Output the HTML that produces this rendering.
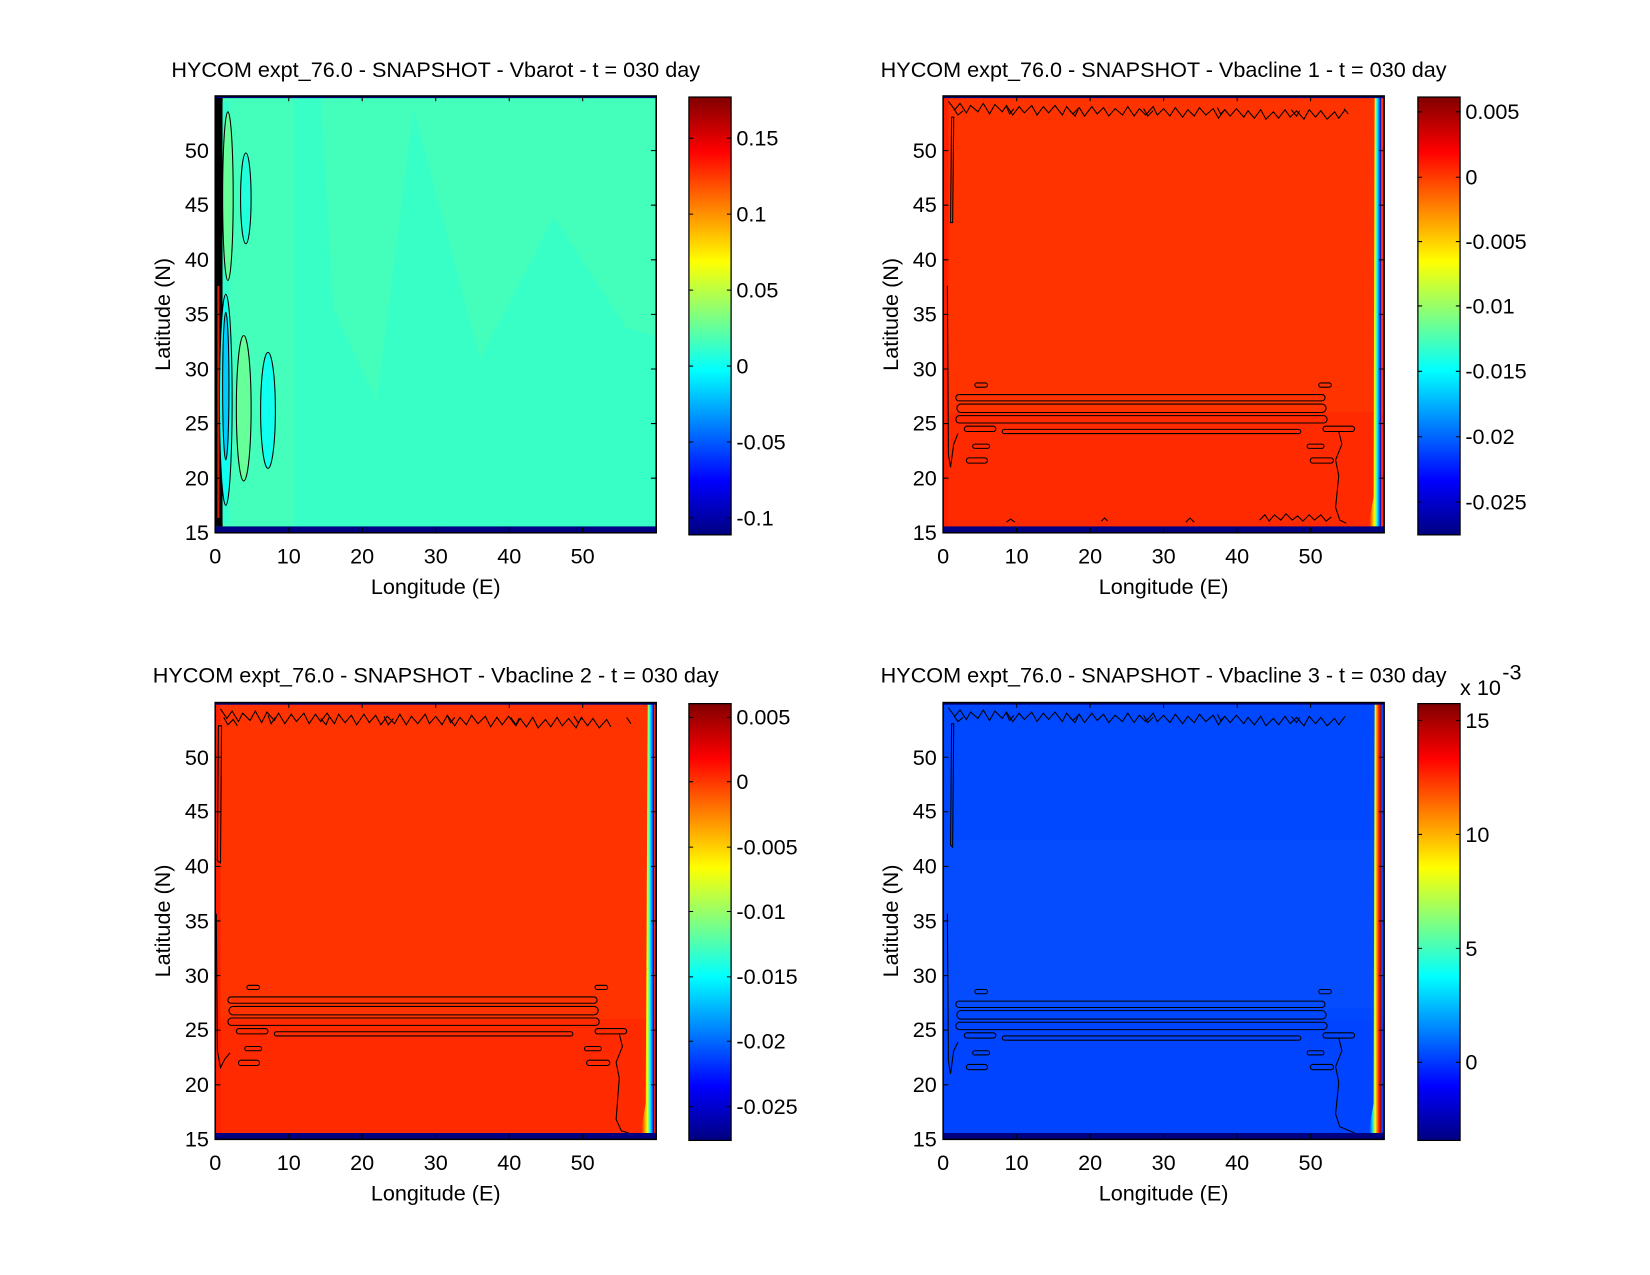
<!DOCTYPE html>
<html><head><meta charset="utf-8"><style>
html,body{margin:0;padding:0;background:#fff;}
svg{display:block;}
text{font-family:"Liberation Sans",sans-serif;font-size:20.5px;fill:#000;}
</style></head><body>
<svg width="1650" height="1275" viewBox="0 0 1564 1208.6" xmlns="http://www.w3.org/2000/svg">
<defs>
<linearGradient id="jet" x1="0" y1="0" x2="0" y2="1">
<stop offset="0" stop-color="#800000"/><stop offset="0.125" stop-color="#ff0000"/>
<stop offset="0.375" stop-color="#ffff00"/><stop offset="0.5" stop-color="#80ff80"/>
<stop offset="0.625" stop-color="#00ffff"/><stop offset="0.875" stop-color="#0000ff"/>
<stop offset="1" stop-color="#000080"/></linearGradient>
<linearGradient id="edgeR" x1="0" y1="0" x2="1" y2="0">
<stop offset="0" stop-color="#ff3300" stop-opacity="0"/><stop offset="0.3" stop-color="#ff9900"/>
<stop offset="0.5" stop-color="#ffff00"/><stop offset="0.7" stop-color="#00ffff"/>
<stop offset="0.9" stop-color="#0040ff"/><stop offset="1" stop-color="#0000a0"/></linearGradient>
<linearGradient id="edgeB" x1="0" y1="0" x2="1" y2="0">
<stop offset="0" stop-color="#0044ff" stop-opacity="0"/><stop offset="0.3" stop-color="#00ccff"/>
<stop offset="0.55" stop-color="#ffff00"/><stop offset="0.8" stop-color="#ff3000"/>
<stop offset="1" stop-color="#a00000"/></linearGradient>
</defs>

<!-- ============ PANEL TL ============ -->
<g transform="translate(204,91)">
<rect x="0" y="0" width="418" height="414" fill="#44ffbb"/>
<path d="M75,414 L75,0 L100,0 L112,200 L153,290 L188,12 L251,249 L321,115 L390,220 L418,228 L418,414 Z" fill="#38ffc6"/>
<rect x="0" y="0" width="7" height="408" fill="#000"/>
<rect x="7" y="5" width="6" height="400" fill="#33ffcc"/>
<ellipse cx="12" cy="95" rx="5" ry="80" fill="#66ff99" stroke="#000" stroke-width="1"/>
<ellipse cx="29" cy="97" rx="5" ry="43" fill="#22ffdd" stroke="#000" stroke-width="1"/>
<ellipse cx="10" cy="288" rx="6" ry="100" fill="#11ffee" stroke="#000" stroke-width="1"/>
<ellipse cx="10" cy="275" rx="3" ry="70" fill="#00ccff" stroke="#000" stroke-width="1"/>
<ellipse cx="27" cy="296" rx="7" ry="69" fill="#66ff99" stroke="#000" stroke-width="1"/>
<ellipse cx="50" cy="298" rx="7" ry="55" fill="#11ffee" stroke="#000" stroke-width="1"/>
<rect x="2" y="180" width="2" height="220" fill="#cc2200"/>
<rect x="0" y="408" width="418" height="6" fill="#000080"/>
<rect x="0" y="0" width="418" height="2" fill="#000080"/>
<rect x="0" y="0" width="418" height="414" fill="none" stroke="#000" stroke-width="1.5"/>
<g stroke="#000" stroke-width="1">
<path d="M69.7,414v-5M139.3,414v-5M209,414v-5M278.7,414v-5M348.3,414v-5M69.7,0v5M139.3,0v5M209,0v5M278.7,0v5M348.3,0v5"/>
<path d="M0,362.3h5M0,310.5h5M0,258.8h5M0,207h5M0,155.3h5M0,103.5h5M0,51.8h5M418,362.3h-5M418,310.5h-5M418,258.8h-5M418,207h-5M418,155.3h-5M418,103.5h-5M418,51.8h-5"/>
</g>
<g text-anchor="end"><text x="-6" y="421">15</text><text x="-6" y="369">20</text><text x="-6" y="317">25</text><text x="-6" y="266">30</text><text x="-6" y="214">35</text><text x="-6" y="162">40</text><text x="-6" y="110">45</text><text x="-6" y="59">50</text></g>
<g text-anchor="middle"><text x="0" y="443">0</text><text x="69.7" y="443">10</text><text x="139.3" y="443">20</text><text x="209" y="443">30</text><text x="278.7" y="443">40</text><text x="348.3" y="443">50</text>
<text x="209" y="472">Longitude (E)</text><text x="209" y="-18">HYCOM expt_76.0 - SNAPSHOT - Vbarot - t = 030 day</text></g>
<text transform="translate(-43,207) rotate(-90)" text-anchor="middle">Latitude (N)</text>
<rect x="449" y="1" width="40" height="415" fill="url(#jet)" stroke="#000" stroke-width="1.2"/>
<g stroke="#000"><path d="M449,40h4M489,40h-4M449,112h4M489,112h-4M449,184h4M489,184h-4M449,256h4M489,256h-4M449,328h4M489,328h-4M449,400h4M489,400h-4"/></g>
<text x="494" y="47">0.15</text><text x="494" y="119">0.1</text><text x="494" y="191">0.05</text><text x="494" y="263">0</text><text x="494" y="335">-0.05</text><text x="494" y="407">-0.1</text>
</g>

<!-- ============ PANEL TR ============ -->
<g transform="translate(894,91)">
<rect x="0" y="0" width="418" height="414" fill="#ff3300"/>
<rect x="0" y="300" width="418" height="108" fill="#ff2a00"/>
<rect x="0" y="0" width="5" height="408" fill="#ff2000"/>
<path d="M409,0 L415,0 L415,408 L403,408 L408,380 Z" fill="url(#edgeR)"/>
<g fill="none" stroke="#000" stroke-width="1">
<path d="M5,5 l6,8 l5,-6 l6,9 l4,-7 l7,6 l5,-8 l6,10 l5,-9 l7,7 l4,-6 l6,9 l6,-8 l5,6 l7,-7 l5,9 l6,-8 l5,6 l6,-7 l7,9 l4,-8 l6,7 l6,-6 l5,8 l7,-9 l5,7 l6,-6 l5,8 l6,-7 l7,6 l5,-8 l6,9 l5,-7 l6,6 l7,-8 l4,8 l6,-6 l6,7 l5,-8 l7,9 l5,-7 l6,6 l5,-8 l6,7 l7,-6 l5,9 l6,-8 l5,6 l6,-7 l7,8 l4,-6 l6,7 l6,-8 l5,9 l7,-7 l5,6 l6,-8 l5,7 l6,-6 l7,8 l5,-9 l6,7 l5,-6 l6,8 l7,-7 l4,6 l6,-8"/>
<path d="M10,12 l4,6 l5,-4 M60,10 l3,7 l4,-5 M120,14 l5,5 l3,-6 M190,12 l4,7 l5,-5 M260,11 l3,6 l4,-4 M330,13 l5,6 l3,-5 M380,12 l4,5"/>
<path d="M8,20 L7,120 L9,120 L10,20 Z"/>
<path d="M4,180 L5,340 L7,352 L10,330 L14,320"/>
<rect x="12" y="283" width="350" height="6" rx="3"/>
<rect x="13" y="292" width="350" height="8" rx="4"/>
<rect x="12" y="303" width="352" height="7" rx="3.5"/>
<rect x="20" y="313" width="30" height="5" rx="2.5"/>
<rect x="56" y="316" width="283" height="4" rx="2"/>
<rect x="360" y="313" width="30" height="5" rx="2.5"/>
<rect x="28" y="330" width="16" height="4" rx="2"/>
<rect x="345" y="330" width="16" height="4" rx="2"/>
<rect x="22" y="343" width="20" height="5" rx="2.5"/>
<rect x="348" y="343" width="22" height="5" rx="2.5"/>
<rect x="30" y="272" width="12" height="4" rx="2"/>
<rect x="356" y="272" width="12" height="4" rx="2"/>
<path d="M375,318 L378,330 L372,345 L375,360 L372,390 L376,402 L382,405"/>
<path d="M300,402 l5,-5 l4,6 l5,-6 l6,5 l5,-6 l6,6 l5,-4 l5,5 l6,-6 l5,5 l6,-5 l5,6 l5,-4 M60,404 l4,-3 l4,3 M150,403 l3,-3 l3,3 M230,404 l4,-4 l4,4"/>
</g>
<rect x="0" y="408" width="418" height="6" fill="#000080"/>
<rect x="0" y="0" width="418" height="2" fill="#000080"/>
<rect x="0" y="0" width="418" height="414" fill="none" stroke="#000" stroke-width="1.5"/>
<g stroke="#000" stroke-width="1">
<path d="M69.7,414v-5M139.3,414v-5M209,414v-5M278.7,414v-5M348.3,414v-5M69.7,0v5M139.3,0v5M209,0v5M278.7,0v5M348.3,0v5"/>
<path d="M0,362.3h5M0,310.5h5M0,258.8h5M0,207h5M0,155.3h5M0,103.5h5M0,51.8h5M418,362.3h-5M418,310.5h-5M418,258.8h-5M418,207h-5M418,155.3h-5M418,103.5h-5M418,51.8h-5"/>
</g>
<g text-anchor="end"><text x="-6" y="421">15</text><text x="-6" y="369">20</text><text x="-6" y="317">25</text><text x="-6" y="266">30</text><text x="-6" y="214">35</text><text x="-6" y="162">40</text><text x="-6" y="110">45</text><text x="-6" y="59">50</text></g>
<g text-anchor="middle"><text x="0" y="443">0</text><text x="69.7" y="443">10</text><text x="139.3" y="443">20</text><text x="209" y="443">30</text><text x="278.7" y="443">40</text><text x="348.3" y="443">50</text>
<text x="209" y="472">Longitude (E)</text><text x="209" y="-18">HYCOM expt_76.0 - SNAPSHOT - Vbacline 1 - t = 030 day</text></g>
<text transform="translate(-43,207) rotate(-90)" text-anchor="middle">Latitude (N)</text>
<rect x="450" y="1" width="40" height="415" fill="url(#jet)" stroke="#000" stroke-width="1.2"/>
<g stroke="#000"><path d="M450,15h4M490,15h-4M450,77h4M490,77h-4M450,138h4M490,138h-4M450,199h4M490,199h-4M450,261h4M490,261h-4M450,323h4M490,323h-4M450,385h4M490,385h-4"/></g>
<text x="495" y="22">0.005</text><text x="495" y="84">0</text><text x="495" y="145">-0.005</text><text x="495" y="206">-0.01</text><text x="495" y="268">-0.015</text><text x="495" y="330">-0.02</text><text x="495" y="392">-0.025</text>
</g>

<!-- ============ PANEL BL ============ -->
<g transform="translate(204,666)">
<rect x="0" y="0" width="418" height="414" fill="#ff3300"/>
<rect x="0" y="300" width="418" height="108" fill="#ff2a00"/>
<rect x="0" y="0" width="5" height="408" fill="#ff2000"/>
<path d="M410,0 L416,0 L416,408 L403,408 L408,380 Z" fill="url(#edgeR)"/>
<g fill="none" stroke="#000" stroke-width="1">
<path d="M5,6 l6,9 l5,-7 l6,10 l4,-8 l7,7 l5,-9 l6,11 l5,-10 l7,8 l4,-7 l6,10 l6,-9 l5,7 l7,-8 l5,10 l6,-9 l5,7 l6,-8 l7,10 l4,-9 l6,8 l6,-7 l5,9 l7,-10 l5,8 l6,-7 l5,9 l6,-8 l7,7 l5,-9 l6,10 l5,-8 l6,7 l7,-9 l4,9 l6,-7 l6,8 l5,-9 l7,10 l5,-8 l6,7 l5,-9 l6,8 l7,-7 l5,10 l6,-9 l5,7 l6,-8 l7,9 l4,-7 l6,8 l6,-9 l5,10 l7,-8 l5,7 l6,-9 l5,8 l6,-7 l7,9 l5,-10 l6,8 l5,-7 l6,9 l7,-8 l4,7"/>
<path d="M8,14 l4,7 l5,-5 l4,6 M50,12 l3,8 l4,-6 M100,15 l5,6 l3,-7 M160,13 l4,8 l5,-6 M220,12 l3,7 l4,-5 M280,14 l5,7 l3,-6 M340,13 l4,6 l4,-5 M390,14 l4,6"/>
<path d="M3,22 L2,150 L5,152 L6,22 Z"/>
<path d="M1,200 L2,330 L5,346 L9,338 L14,332"/>
<rect x="12" y="279" width="350" height="6" rx="3"/>
<rect x="13" y="288" width="350" height="8" rx="4"/>
<rect x="12" y="299" width="352" height="7" rx="3.5"/>
<rect x="20" y="309" width="30" height="5" rx="2.5"/>
<rect x="56" y="312" width="283" height="4" rx="2"/>
<rect x="360" y="309" width="30" height="5" rx="2.5"/>
<rect x="28" y="326" width="16" height="4" rx="2"/>
<rect x="350" y="326" width="16" height="4" rx="2"/>
<rect x="22" y="339" width="20" height="5" rx="2.5"/>
<rect x="352" y="339" width="22" height="5" rx="2.5"/>
<rect x="30" y="268" width="12" height="4" rx="2"/>
<rect x="360" y="268" width="12" height="4" rx="2"/>
<path d="M383,314 L386,326 L380,341 L383,356 L380,395 L385,406 L392,408"/>
</g>
<rect x="0" y="408" width="418" height="6" fill="#000080"/>
<rect x="0" y="0" width="418" height="2" fill="#000080"/>
<rect x="0" y="0" width="418" height="414" fill="none" stroke="#000" stroke-width="1.5"/>
<g stroke="#000" stroke-width="1">
<path d="M69.7,414v-5M139.3,414v-5M209,414v-5M278.7,414v-5M348.3,414v-5M69.7,0v5M139.3,0v5M209,0v5M278.7,0v5M348.3,0v5"/>
<path d="M0,362.3h5M0,310.5h5M0,258.8h5M0,207h5M0,155.3h5M0,103.5h5M0,51.8h5M418,362.3h-5M418,310.5h-5M418,258.8h-5M418,207h-5M418,155.3h-5M418,103.5h-5M418,51.8h-5"/>
</g>
<g text-anchor="end"><text x="-6" y="421">15</text><text x="-6" y="369">20</text><text x="-6" y="317">25</text><text x="-6" y="266">30</text><text x="-6" y="214">35</text><text x="-6" y="162">40</text><text x="-6" y="110">45</text><text x="-6" y="59">50</text></g>
<g text-anchor="middle"><text x="0" y="443">0</text><text x="69.7" y="443">10</text><text x="139.3" y="443">20</text><text x="209" y="443">30</text><text x="278.7" y="443">40</text><text x="348.3" y="443">50</text>
<text x="209" y="472">Longitude (E)</text><text x="209" y="-19">HYCOM expt_76.0 - SNAPSHOT - Vbacline 2 - t = 030 day</text></g>
<text transform="translate(-43,207) rotate(-90)" text-anchor="middle">Latitude (N)</text>
<rect x="449" y="1" width="40" height="414" fill="url(#jet)" stroke="#000" stroke-width="1.2"/>
<g stroke="#000"><path d="M449,14h4M489,14h-4M449,75h4M489,75h-4M449,137h4M489,137h-4M449,198h4M489,198h-4M449,260h4M489,260h-4M449,321h4M489,321h-4M449,383h4M489,383h-4"/></g>
<text x="494" y="21">0.005</text><text x="494" y="82">0</text><text x="494" y="144">-0.005</text><text x="494" y="205">-0.01</text><text x="494" y="267">-0.015</text><text x="494" y="328">-0.02</text><text x="494" y="390">-0.025</text>
</g>

<!-- ============ PANEL BR ============ -->
<g transform="translate(894,666)">
<rect x="0" y="0" width="418" height="414" fill="#0048ff"/>
<rect x="0" y="130" width="418" height="160" fill="#064cff"/>
<rect x="0" y="300" width="418" height="108" fill="#0044ff"/>
<path d="M409,0 L415,0 L415,408 L403,408 L408,380 Z" fill="url(#edgeB)"/>
<g fill="none" stroke="#000" stroke-width="1">
<path d="M5,5 l6,8 l5,-6 l6,9 l4,-7 l7,6 l5,-8 l6,10 l5,-9 l7,7 l4,-6 l6,9 l6,-8 l5,6 l7,-7 l5,9 l6,-8 l5,6 l6,-7 l7,9 l4,-8 l6,7 l6,-6 l5,8 l7,-9 l5,7 l6,-6 l5,8 l6,-7 l7,6 l5,-8 l6,9 l5,-7 l6,6 l7,-8 l4,8 l6,-6 l6,7 l5,-8 l7,9 l5,-7 l6,6 l5,-8 l6,7 l7,-6 l5,9 l6,-8 l5,6 l6,-7 l7,8 l4,-6 l6,7 l6,-8 l5,9 l7,-7 l5,6 l6,-8 l5,7 l6,-6 l7,8 l5,-9 l6,7 l5,-6 l6,8 l7,-7 l4,6 l6,-8"/>
<path d="M10,12 l4,6 l5,-4 M60,10 l3,7 l4,-5 M120,14 l5,5 l3,-6 M190,12 l4,7 l5,-5 M260,11 l3,6 l4,-4 M330,13 l5,6 l3,-5"/>
<path d="M8,20 L7,135 L9,137 L10,20 Z"/>
<path d="M4,200 L5,340 L7,352 L10,330 L14,322"/>
<rect x="12" y="283" width="350" height="6" rx="3"/>
<rect x="13" y="292" width="350" height="8" rx="4"/>
<rect x="12" y="303" width="352" height="7" rx="3.5"/>
<rect x="20" y="313" width="30" height="5" rx="2.5"/>
<rect x="56" y="316" width="283" height="4" rx="2"/>
<rect x="360" y="313" width="30" height="5" rx="2.5"/>
<rect x="28" y="330" width="16" height="4" rx="2"/>
<rect x="345" y="330" width="16" height="4" rx="2"/>
<rect x="22" y="343" width="20" height="5" rx="2.5"/>
<rect x="348" y="343" width="22" height="5" rx="2.5"/>
<rect x="30" y="272" width="12" height="4" rx="2"/>
<rect x="356" y="272" width="12" height="4" rx="2"/>
<path d="M375,318 L378,330 L372,345 L375,360 L372,390 L376,402 L390,408"/>
</g>
<rect x="0" y="408" width="418" height="6" fill="#000080"/>
<rect x="0" y="0" width="418" height="2" fill="#000080"/>
<rect x="0" y="0" width="418" height="414" fill="none" stroke="#000" stroke-width="1.5"/>
<g stroke="#000" stroke-width="1">
<path d="M69.7,414v-5M139.3,414v-5M209,414v-5M278.7,414v-5M348.3,414v-5M69.7,0v5M139.3,0v5M209,0v5M278.7,0v5M348.3,0v5"/>
<path d="M0,362.3h5M0,310.5h5M0,258.8h5M0,207h5M0,155.3h5M0,103.5h5M0,51.8h5M418,362.3h-5M418,310.5h-5M418,258.8h-5M418,207h-5M418,155.3h-5M418,103.5h-5M418,51.8h-5"/>
</g>
<g text-anchor="end"><text x="-6" y="421">15</text><text x="-6" y="369">20</text><text x="-6" y="317">25</text><text x="-6" y="266">30</text><text x="-6" y="214">35</text><text x="-6" y="162">40</text><text x="-6" y="110">45</text><text x="-6" y="59">50</text></g>
<g text-anchor="middle"><text x="0" y="443">0</text><text x="69.7" y="443">10</text><text x="139.3" y="443">20</text><text x="209" y="443">30</text><text x="278.7" y="443">40</text><text x="348.3" y="443">50</text>
<text x="209" y="472">Longitude (E)</text><text x="209" y="-19">HYCOM expt_76.0 - SNAPSHOT - Vbacline 3 - t = 030 day</text></g>
<text transform="translate(-43,207) rotate(-90)" text-anchor="middle">Latitude (N)</text>
<text x="490" y="-7">x 10</text><text x="530" y="-22" font-size="13">-3</text>
<rect x="450" y="1" width="40" height="414" fill="url(#jet)" stroke="#000" stroke-width="1.2"/>
<g stroke="#000"><path d="M450,17h4M490,17h-4M450,125h4M490,125h-4M450,233h4M490,233h-4M450,341h4M490,341h-4"/></g>
<text x="495" y="24">15</text><text x="495" y="132">10</text><text x="495" y="240">5</text><text x="495" y="348">0</text>
</g>
</svg>
</body></html>
